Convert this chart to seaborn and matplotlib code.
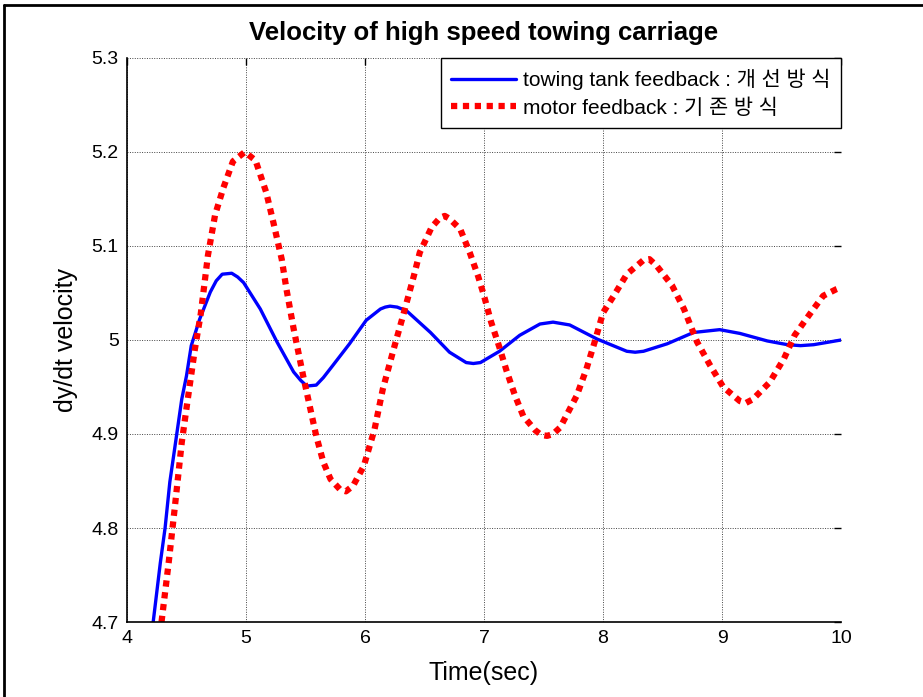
import matplotlib
matplotlib.use("Agg")
import matplotlib.pyplot as plt
from matplotlib.lines import Line2D
import seaborn as sns

# ─────────────────────────────────────────────
# Data
# ─────────────────────────────────────────────
tank_t = [4.22, 4.28, 4.32, 4.36, 4.40, 4.46, 4.50, 4.54, 4.61, 4.70, 4.75, 4.80, 4.88,
          4.93, 4.98, 5.12, 5.26, 5.40, 5.46, 5.51, 5.59, 5.65, 5.73, 5.87, 6.01, 6.13,
          6.17, 6.21, 6.27, 6.35, 6.55, 6.71, 6.85, 6.91, 6.97, 7.13, 7.30, 7.47, 7.58,
          7.72, 7.95, 8.20, 8.27, 8.34, 8.54, 8.76, 8.98, 9.15, 9.38, 9.55, 9.66, 9.77,
          10.0]
tank_v = [4.700, 4.763, 4.800, 4.849, 4.884, 4.937, 4.962, 4.994, 5.022, 5.051, 5.063, 5.070, 5.071,
          5.067, 5.061, 5.033, 4.998, 4.966, 4.957, 4.951, 4.952, 4.960, 4.973, 4.996, 5.021, 5.033,
          5.035, 5.036, 5.035, 5.031, 5.008, 4.987, 4.976, 4.975, 4.976, 4.988, 5.005, 5.017, 5.019,
          5.016, 5.001, 4.988, 4.987, 4.988, 4.996, 5.008, 5.011, 5.007, 4.999, 4.995, 4.994, 4.995,
          5.000]

motor_t = [4.29, 4.35, 4.40, 4.46, 4.515, 4.57, 4.62, 4.68, 4.74, 4.81, 4.89, 4.99,
           5.08, 5.17, 5.23, 5.30, 5.34, 5.40, 5.48, 5.54, 5.59, 5.65, 5.71, 5.79,
           5.84, 5.90, 5.99, 6.08, 6.15, 6.24, 6.32, 6.41, 6.46, 6.56, 6.63, 6.67,
           6.71, 6.80, 6.88, 6.95, 7.00, 7.06, 7.13, 7.19, 7.26, 7.33, 7.43, 7.48,
           7.53, 7.58, 7.64, 7.78, 7.86, 7.93, 8.00, 8.09, 8.20, 8.34, 8.39, 8.45,
           8.58, 8.68, 8.79, 8.90, 9.01, 9.15, 9.20, 9.26, 9.40, 9.52, 9.61, 9.74,
           9.85, 9.96, 10.0]
motor_v = [4.700, 4.763, 4.820, 4.891, 4.941, 4.990, 5.028, 5.090, 5.133, 5.162, 5.190, 5.200,
           5.191, 5.157, 5.125, 5.086, 5.054, 5.012, 4.962, 4.927, 4.898, 4.870, 4.852, 4.841,
           4.839, 4.845, 4.866, 4.905, 4.948, 4.990, 5.026, 5.068, 5.093, 5.120, 5.130, 5.132,
           5.129, 5.118, 5.093, 5.068, 5.047, 5.019, 4.992, 4.967, 4.941, 4.919, 4.904, 4.899,
           4.898, 4.900, 4.907, 4.941, 4.969, 4.998, 5.029, 5.047, 5.070, 5.085, 5.086, 5.079,
           5.058, 5.033, 4.998, 4.973, 4.950, 4.935, 4.933, 4.937, 4.955, 4.980, 5.005, 5.028,
           5.047, 5.054, 5.056]

x_ticks = [4, 5, 6, 7, 8, 9, 10]
y_ticks = [4.7, 4.8, 4.9, 5.0, 5.1, 5.2, 5.3]
y_tick_labels = ["4.7", "4.8", "4.9", "5", "5.1", "5.2", "5.3"]

LABEL_TANK  = "towing tank feedback : 개 선 방 식"
LABEL_MOTOR = "motor feedback : 기 존 방 식"

# ─────────────────────────────────────────────
# Style
# ─────────────────────────────────────────────
sns.set_style("white")
plt.rcParams["font.family"] = ["Liberation Sans", "Noto Sans CJK KR", "DejaVu Sans"]
plt.rcParams["text.color"] = "black"
plt.rcParams["axes.labelcolor"] = "black"

fig = plt.figure(figsize=(9.23, 6.97), dpi=100)
ax = fig.add_axes([0.1376, 0.1076, 0.7736, 0.8092])

sns.lineplot(x=tank_t, y=tank_v, ax=ax, sort=False, estimator=None,
             color="#0000ff", linewidth=2.4, label=LABEL_TANK)
sns.lineplot(x=motor_t, y=motor_v, ax=ax, sort=False, estimator=None,
             color="#ff0000", linewidth=4.5, linestyle=(0, (1, 0.9)),
             label=LABEL_MOTOR)
for ln in ax.get_lines():
    ln.set_dash_capstyle("butt")
    ln.set_solid_joinstyle("round")

ax.set_xlim(4, 10)
ax.set_ylim(4.7, 5.3)
ax.set_xticks(x_ticks)
ax.set_xticklabels([str(t) for t in x_ticks])
ax.set_yticks(y_ticks)
ax.set_yticklabels(y_tick_labels)
ax.tick_params(direction="in", length=5, width=1, top=True, right=True,
               labelsize=14, colors="black", pad=6)

ax.grid(True, color="#444444", linestyle=(0, (1, 1.5)), linewidth=0.7)
for side in ["top", "right"]:
    ax.spines[side].set_visible(False)
for side in ["left", "bottom"]:
    ax.spines[side].set_color("black")
    ax.spines[side].set_linewidth(1.2)

ax.set_title("Velocity of high speed towing carriage", fontsize=18.5,
             fontweight="bold", pad=13, color="black")
ax.set_xlabel("Time(sec)", fontsize=18, labelpad=10)
ax.set_ylabel("dy/dt velocity", fontsize=18, labelpad=10)

leg = ax.legend(loc="upper right", borderaxespad=0, fancybox=False,
                edgecolor="black", framealpha=1, fontsize=15,
                handlelength=3.1, handletextpad=0.35, borderpad=0.5,
                labelspacing=0.4, labelcolor="black")
leg.get_frame().set_linewidth(1.0)

# figure frame (top and left edges visible in the reference)
fig.add_artist(Line2D([0.004, 0.004], [0, 0.993], transform=fig.transFigure,
                      color="black", linewidth=2))
fig.add_artist(Line2D([0.004, 1.0], [0.993, 0.993], transform=fig.transFigure,
                      color="black", linewidth=2))

plt.savefig("out.png", dpi=100)
